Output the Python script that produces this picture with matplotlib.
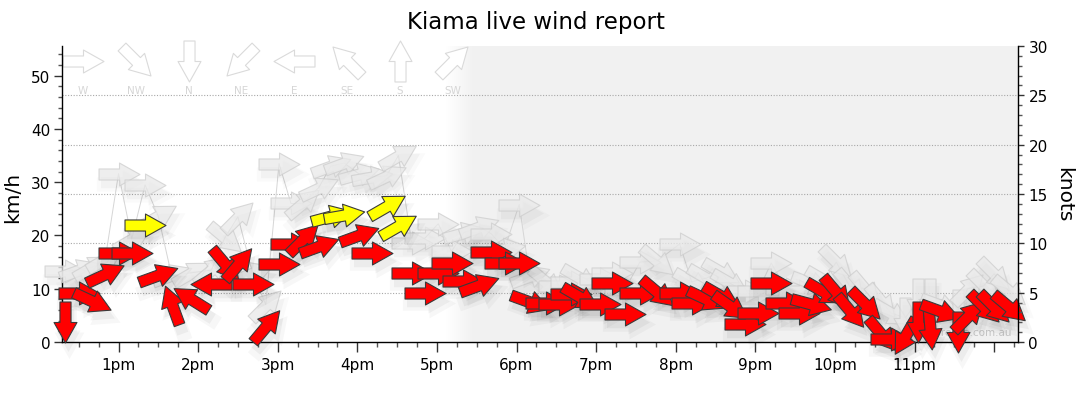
import numpy as np
import matplotlib
matplotlib.use("Agg")
import matplotlib.pyplot as plt
from matplotlib.path import Path
from matplotlib.markers import MarkerStyle
from matplotlib.transforms import Affine2D, offset_copy
from matplotlib.ticker import MultipleLocator, FixedLocator
from matplotlib.colors import LinearSegmentedColormap

# ---------------- data ----------------
times = ["12:20", "12:30", "12:40", "12:50", "13:00", "13:10", "13:20", "13:30", "13:40", "13:55",
         "14:10", "14:20", "14:30", "14:41", "14:51", "15:01", "15:10", "15:19", "15:31", "15:40",
         "15:50", "16:01", "16:11", "16:22", "16:31", "16:41", "16:51", "17:01", "17:11", "17:20",
         "17:32", "17:41", "17:51", "18:02", "18:10", "18:22", "18:32", "18:41", "18:48", "19:03",
         "19:12", "19:22", "19:33", "19:46", "20:03", "20:12", "20:23", "20:34", "20:41", "20:52",
         "21:02", "21:12", "21:23", "21:33", "21:42", "21:52", "22:01", "22:11", "22:23", "22:35",
         "22:42", "22:53", "23:03", "23:12", "23:19", "23:33", "23:40", "23:52", "00:00", "00:11"]
speed_kmh = [3.8, 9.2, 7.7, 12.8, 16.7, 16.7, 22.0, 12.6, 7.0, 8.0,
             10.9, 14.6, 14.6, 10.9, 3.0, 14.7, 18.4, 19.4, 18.0, 23.7,
             23.9, 20.0, 16.7, 25.6, 21.8, 13.0, 9.2, 13.0, 14.8, 11.5,
             10.7, 16.9, 14.8, 14.8, 7.5, 7.3, 7.1, 9.0, 8.5, 7.1,
             11.1, 5.3, 9.2, 9.4, 9.2, 7.3, 8.1, 8.6, 6.8, 3.4,
             5.4, 11.1, 7.3, 5.4, 7.1, 9.4, 9.4, 5.8, 7.1, 1.5,
             0.5, 1.2, 3.8, 2.4, 5.8, 1.9, 4.9, 6.6, 6.6, 6.6]
dir_from = [0, 270, 295, 245, 270, 270, 270, 250, 160, 122,
            90, 320, 220, 270, 220, 270, 270, 225, 250, 255,
            260, 250, 270, 240, 240, 270, 270, 270, 270, 270,
            250, 270, 270, 270, 290, 270, 270, 270, 300, 270,
            270, 270, 270, 310, 270, 270, 295, 300, 305, 270,
            270, 270, 270, 270, 285, 300, 320, 320, 315, 320,
            270, 30, 0, 355, 290, 0, 225, 315, 315, 310]
gust_kmh = [13.3, 13.5, 14.0, 15.6, 31.6, 19.4, 29.5, 23.6, 12.5, 13.0,
            13.5, 19.5, 23.5, 13.0, 7.0, 33.5, 26.0, 26.0, 29.0, 33.0,
            33.6, 31.6, 31.0, 31.2, 35.0, 18.6, 19.5, 22.2, 17.0, 20.5,
            21.6, 20.3, 17.5, 25.8, 12.3, 11.3, 10.5, 11.3, 12.0, 11.8,
            13.0, 10.0, 15.0, 15.2, 18.4, 11.3, 12.0, 13.2, 11.0, 9.6,
            9.6, 14.8, 10.0, 9.5, 11.0, 11.6, 15.0, 10.5, 10.0, 7.7,
            5.5, 4.5, 8.0, 8.0, 7.0, 6.0, 10.0, 10.5, 12.8, 9.6]
gust_dir_from = [270, 250, 240, 240, 270, 240, 270, 240, 250, 240,
                 230, 310, 225, 250, 225, 270, 270, 230, 245, 250,
                 250, 255, 260, 245, 240, 270, 270, 270, 270, 255,
                 250, 270, 260, 270, 250, 310, 270, 270, 300, 270,
                 270, 270, 270, 310, 270, 300, 300, 300, 300, 270,
                 270, 270, 270, 270, 290, 300, 315, 320, 320, 320,
                 300, 0, 0, 0, 290, 0, 225, 315, 315, 310]

hour_ticks = [13, 14, 15, 16, 17, 18, 19, 20, 21, 22, 23, 24]
hour_labels = ["1pm", "2pm", "3pm", "4pm", "5pm", "6pm", "7pm", "8pm", "9pm", "10pm", "11pm", ""]
compass_labels = ["W", "NW", "N", "NE", "E", "SE", "S", "SW"]
compass_from = [270, 315, 0, 45, 90, 135, 180, 225]

KMH_PER_KNOT = 1.852
YELLOW_FROM_KNOTS = 11.0
X_START, X_END = 12.29, 24.30
NIGHT_START = 17.47


def to_hours(s):
    h, m = s.split(":")
    h = int(h)
    if h < 12:
        h += 24
    return h + int(m) / 60.0


t = np.array([to_hours(s) for s in times])
spd = np.array(speed_kmh)
gst = np.array(gust_kmh)

ARROW = Path([(-1, -0.27), (0, -0.27), (0, -0.56), (1, 0), (0, 0.56), (0, 0.27), (-1, 0.27), (-1, -0.27)],
             [Path.MOVETO] + [Path.LINETO] * 6 + [Path.CLOSEPOLY])


def arrow_marker(from_deg):
    angle = 90 - (from_deg + 180)
    return MarkerStyle(ARROW, transform=Affine2D().rotate_deg(angle), joinstyle="miter")


MS = 29.5

fig = plt.figure(figsize=(10.8, 4.14), dpi=100)
ax = fig.add_axes([62 / 1080, 71 / 414, 956 / 1080, 296 / 414])
ymax = 30 * KMH_PER_KNOT

# background (night shading with soft edge)
cmap = LinearSegmentedColormap.from_list("fade", ["#ffffff", "#f1f1f1"])
ax.imshow(np.linspace(0, 1, 64).reshape(1, -1), extent=[17.12, NIGHT_START, 0, ymax],
          cmap=cmap, aspect="auto", zorder=0, interpolation="bilinear")
ax.axvspan(NIGHT_START, X_END, color="#f1f1f1", lw=0, zorder=0)

for k in [5, 10, 15, 20, 25]:
    ax.axhline(k * KMH_PER_KNOT, color="#a8a8a8", ls=(0, (1, 1.5)), lw=0.8, zorder=1)

# watermark
ax.text(0.9937, 0.034, "www.seabreeze.com.au", transform=ax.transAxes, ha="right", va="center",
        fontsize=7.5, color="#c4c4c4", zorder=2)

# compass legend
for i, (lab, d) in enumerate(zip(compass_labels, compass_from)):
    xa = (21 + i * 52.8) / 956
    ax.plot([xa], [0.949], transform=ax.transAxes, marker=arrow_marker(d), ms=MS, mfc="white",
            mec="#dadada", mew=0.8, ls="none", zorder=2, clip_on=False)
    ax.text(xa, 0.852, lab, transform=ax.transAxes, ha="center", va="center", fontsize=7.5,
            color="#d6d6d6", zorder=2)

# gust connecting line
ax.plot(t, gst, color="#d6d6d6", lw=0.7, zorder=2)

shadow_tr = offset_copy(ax.transData, fig=fig, x=3, y=-8, units="dots")
shadow_tr2 = offset_copy(ax.transData, fig=fig, x=4, y=-10, units="dots")


def draw_arrow(x, y, d, face, edge, alpha, z, shade, mew=0.8):
    m = arrow_marker(d)
    for tr, s, a in [(shadow_tr, 1.05, 0.045 * shade), (shadow_tr2, 1.3, 0.03 * shade)]:
        ax.plot([x], [y], transform=tr, marker=m, ms=MS * s, mfc="#000000", mec="none",
                alpha=a, ls="none", zorder=z - 0.5, clip_on=False)
    ax.plot([x], [y], marker=m, ms=MS, mfc=face, mec=edge, mew=mew, alpha=alpha,
            ls="none", zorder=z, clip_on=False)


for x, g, d in zip(t, gst, gust_dir_from):
    draw_arrow(x, g, d, "#e9e9e9", "#cdcdcd", 0.75, 3, 0.7)

for x, s, d in zip(t, spd, dir_from):
    face = "#ffff00" if s / KMH_PER_KNOT >= YELLOW_FROM_KNOTS else "#ff0000"
    draw_arrow(x, s, d, face, "#3a3a3a", 1.0, 5, 1.0)

ax.set_xlim(X_START, X_END)
ax.set_ylim(0, ymax)

# axes styling
for side in ["top", "right"]:
    ax.spines[side].set_visible(False)
ax.spines["left"].set_linewidth(1.0)
ax.spines["bottom"].set_linewidth(1.0)

ax.yaxis.set_major_locator(MultipleLocator(10))
ax.yaxis.set_minor_locator(MultipleLocator(2))
ax.xaxis.set_major_locator(FixedLocator(hour_ticks))
ax.set_xticklabels(hour_labels)
ax.xaxis.set_minor_locator(MultipleLocator(0.25))
ax.tick_params(axis="y", which="major", length=5.5, width=1, color="#333333", labelsize=11, pad=3)
ax.tick_params(axis="y", which="minor", length=3.2, width=1, color="#555555")
ax.tick_params(axis="x", which="major", length=7, width=1, color="#333333", labelsize=11, pad=4)
ax.tick_params(axis="x", which="minor", length=3.5, width=1, color="#555555")

ax2 = ax.twinx()
ax2.set_ylim(0, 30)
for side in ["top", "left", "bottom"]:
    ax2.spines[side].set_visible(False)
ax2.spines["right"].set_linewidth(1.0)
ax2.yaxis.set_major_locator(MultipleLocator(5))
ax2.yaxis.set_minor_locator(MultipleLocator(1))
ax2.tick_params(axis="y", which="major", length=4.5, width=1, color="#333333", labelsize=11, pad=3)
ax2.tick_params(axis="y", which="minor", length=3.2, width=1, color="#555555")

fig.text(13 / 1080, 1 - 197 / 414, "km/h", rotation=90, ha="center", va="center", fontsize=14.5)
fig.text(1064 / 1080, 1 - 195 / 414, "knots", rotation=270, ha="center", va="center", fontsize=14.5)
fig.text(536 / 1080, 1 - 22 / 414, "Kiama live wind report", ha="center", va="center", fontsize=16.5)

fig.savefig("out.png", dpi=100)
